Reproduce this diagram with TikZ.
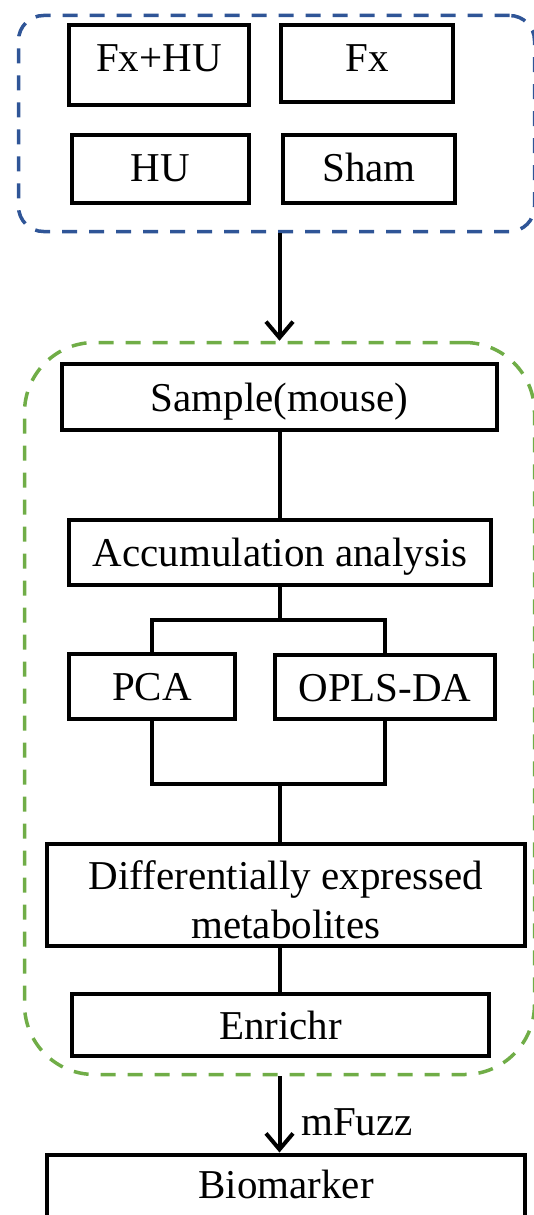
\documentclass[tikz,border=0pt]{standalone}
\usepackage{fontspec}
\setmainfont{Liberation Serif}
\usetikzlibrary{arrows.meta,positioning,calc}
\definecolor{grpblue}{HTML}{2F5597}
\definecolor{grpgreen}{HTML}{70AD47}

\begin{document}
\begin{tikzpicture}[x=1pt,y=-1pt,
  box/.style={draw,line width=4pt,inner sep=0pt,text height=28pt,text depth=#1,
    font=\fontsize{41}{49}\selectfont},
  box/.default=0pt,
  grp/.style={line width=3.5pt,dash pattern=on 15pt off 12pt,rounded corners=#1,inner sep=0pt},
  link/.style={line width=4pt},
  arr/.style={line width=4pt,-{Straight Barb[length=16pt,width=27pt,line width=4pt]}}]

\useasboundingbox (0,0) rectangle (534,1215);
\clip (0,0) rectangle (534,1215);

% groups
\node[grp=25,draw=grpblue,minimum width=516pt,minimum height=216pt] (groups) at (276.5,123.5) {};
\node[box=16pt,minimum width=180pt,minimum height=80pt] (fxhu) at (159,65) {Fx+HU};
\node[box=13pt,minimum width=172pt,minimum height=77pt] (fx) at (367,63.5) {Fx};
\node[box=4pt,minimum width=177pt,minimum height=68pt] (hu) at (160.5,169) {HU};
\node[box=4pt,minimum width=172pt,minimum height=68pt] (sham) at (369,169) {Sham};

% analysis
\node[grp=70,draw=grpgreen,minimum width=510pt,minimum height=732pt] (study) at (279.5,708.5) {};
\node[box,minimum width=435pt,minimum height=66pt] (sample) at (279.5,397) {Sample(mouse)};
\node[box,minimum width=422pt,minimum height=65pt] (accum) at (280,552.5) {Accumulation analysis};
\node[box,minimum width=166pt,minimum height=65pt] (pca) at (152,686.5) {PCA};
\node[box,minimum width=220pt,minimum height=64pt] (opls) at (385,687) {OPLS-DA};
\node[box,text height=86pt,align=center,minimum width=478pt,minimum height=102pt] (diff) at (286,895)
  {Differentially expressed\\metabolites};
\node[box,minimum width=417pt,minimum height=62pt] (enrichr) at (280.5,1025) {Enrichr};

\node[box=35pt,minimum width=478pt,minimum height=94pt] (bio) at (286,1201.5) {Biomarker};
\node[anchor=base west,inner sep=0pt,font=\fontsize{41}{49}\selectfont] (mfuzz) at (301,1135) {mFuzz};

\draw[arr] (sample |- groups.south) -- (sample |- study.north);
\draw[link] (sample.south) -- (sample.south |- accum.north);
\draw[link] (accum.south) -- ++(0,33) coordinate (split);
\draw[link] (pca.north) |- (split) -| (opls.north);
\draw[link] (pca.south) -- ++(0,63) coordinate (merge) -| (opls.south);
\draw[link] (sample |- merge) -- (sample |- diff.north);
\draw[link] (sample |- diff.south) -- (sample |- enrichr.north);
\draw[arr] (sample |- study.south) -- (sample |- bio.north);

\end{tikzpicture}
\end{document}
